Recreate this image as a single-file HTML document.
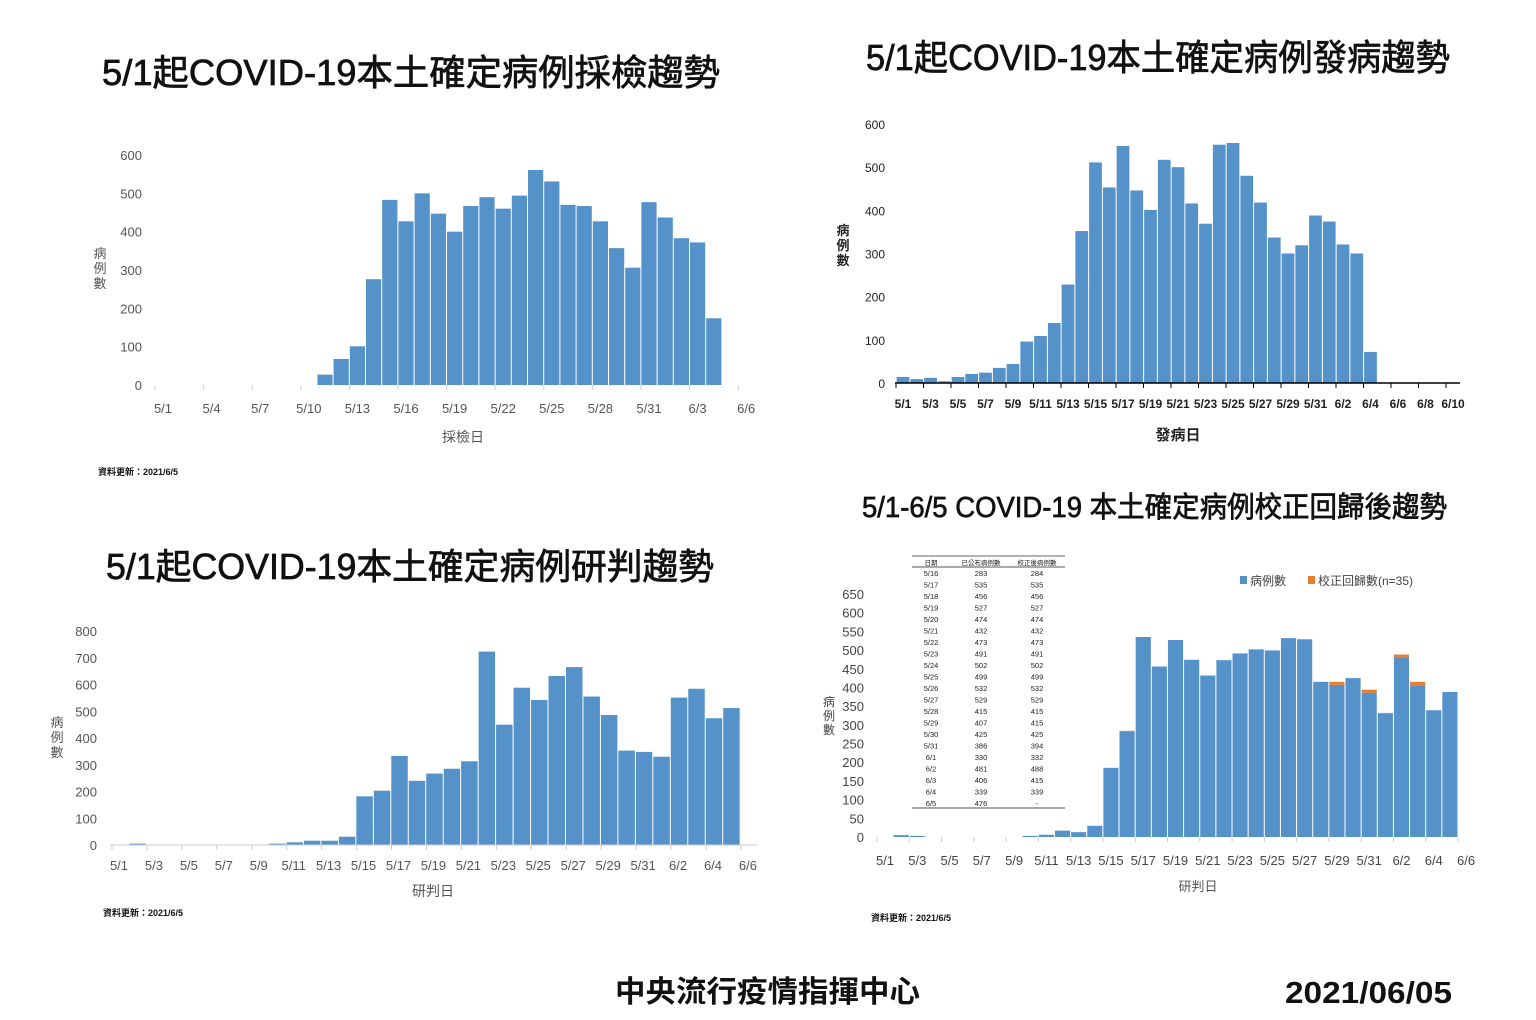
<!DOCTYPE html>
<html><head><meta charset="utf-8"><style>
html,body{margin:0;padding:0;background:#fff;}
svg{display:block;}
text{font-family:"Liberation Sans","Noto Sans CJK TC",sans-serif;}
</style></head><body>
<svg id="s" width="1536" height="1020" xmlns="http://www.w3.org/2000/svg">
<g fill="#111" stroke="#111" stroke-width="0.7">
<text x="102" y="85" font-size="36" textLength="618" lengthAdjust="spacingAndGlyphs">5/1起COVID-19本土確定病例採檢趨勢</text>
<text x="866" y="70" font-size="36" textLength="584" lengthAdjust="spacingAndGlyphs">5/1起COVID-19本土確定病例發病趨勢</text>
<text x="106" y="579" font-size="36" textLength="608" lengthAdjust="spacingAndGlyphs">5/1起COVID-19本土確定病例研判趨勢</text>
<text x="862" y="517" font-size="29" textLength="585" lengthAdjust="spacingAndGlyphs">5/1-6/5 COVID-19 本土確定病例校正回歸後趨勢</text>
</g>
<g font-weight="bold" fill="#111">
<text x="615" y="1002" font-size="30" textLength="305" lengthAdjust="spacingAndGlyphs">中央流行疫情指揮中心</text>
<text x="1285" y="1003" font-size="31" textLength="167" lengthAdjust="spacingAndGlyphs">2021/06/05</text>
<text x="98" y="475" font-size="9">資料更新：2021/6/5</text>
<text x="103" y="916" font-size="9">資料更新：2021/6/5</text>
<text x="871" y="921" font-size="9">資料更新：2021/6/5</text>
</g>
<g id="g"></g>
</svg>
<script>
var NS="http://www.w3.org/2000/svg",G=document.getElementById('g');
function el(t,a,txt){var e=document.createElementNS(NS,t);for(var k in a)e.setAttribute(k,a[k]);if(txt!=null)e.textContent=txt;G.appendChild(e);return e;}
var BLUE="#5592ca";
function lab(d){var m=d<31?5:6,dd=d<31?d+1:d-30;return m+"/"+dd;}
// chart1
(function(){var z=385,s=230/600,x0=163,w=16.2;
for(var v=0;v<=600;v+=100)el('text',{x:142,y:z-v*s+5,'font-size':13,'text-anchor':'end',fill:'#555'},v);
var vals=[27,68,101,276,483,427,500,447,400,467,490,460,494,561,531,470,467,427,357,306,477,437,383,372,174];
vals.forEach(function(v,i){var c=x0+(10+i)*w;el('rect',{x:c-w/2+0.5,y:z-v*s,width:w-1,height:v*s,fill:BLUE});});
for(var d=0;d<=36;d+=3){el('line',{x1:x0+d*w-8,y1:z,x2:x0+d*w-8,y2:z+5,stroke:'#ccc'});el('text',{x:x0+d*w,y:413,'font-size':13,'text-anchor':'middle',fill:'#555'},lab(d));}
el('text',{x:463,y:442,'font-size':14,'text-anchor':'middle',fill:'#555'},'採檢日');
['病','例','數'].forEach(function(c,i){el('text',{x:100,y:258+i*15,'font-size':13,'text-anchor':'middle',fill:'#555'},c);});
})();
// chart2
(function(){var z=383,s=259/600,x0=903,w=13.75;
for(var v=0;v<=600;v+=100)el('text',{x:885,y:z-v*s+5,'font-size':12,'text-anchor':'end',fill:'#222'},v);
var vals=[14,9,12,4,14,21,24,35,44,96,109,139,228,352,511,453,549,446,401,517,500,416,369,552,556,480,418,337,300,319,388,374,321,300,72];
vals.forEach(function(v,i){var c=x0+i*w;el('rect',{x:c-w/2+0.5,y:z-v*s,width:w-1,height:v*s,fill:BLUE});});
el('line',{x1:895,y1:z,x2:1460,y2:z,stroke:'#000','stroke-width':1.5});
for(var d=0;d<=40;d+=2){el('line',{x1:x0+d*w-7,y1:z,x2:x0+d*w-7,y2:z+5,stroke:'#000'});var L=d<31?lab(d):'6/'+(d-30);el('text',{x:x0+d*w,y:408,'font-size':12,'font-weight':'bold','text-anchor':'middle',fill:'#222'},L);}
el('text',{x:1178,y:440,'font-size':15,'font-weight':'bold','text-anchor':'middle',fill:'#222'},'發病日');
['病','例','數'].forEach(function(c,i){el('text',{x:843,y:235+i*15,'font-size':13,'font-weight':'bold','text-anchor':'middle',fill:'#222'},c);});
})();
// chart3
(function(){var z=845,s=214/800,x0=119,w=17.47;
for(var v=0;v<=800;v+=100)el('text',{x:97,y:z-v*s+5,'font-size':13,'text-anchor':'end',fill:'#555'},v);
var vals=[0,5,1,1,1,1,1,1,1,5,10,16,16,31,182,203,333,240,267,285,313,723,450,588,542,632,665,555,486,353,348,330,551,584,474,512];
vals.forEach(function(v,i){if(!v)return;var c=x0+i*w+1;el('rect',{x:c-w/2+0.5,y:z-v*s,width:w-1,height:v*s,fill:BLUE});});
el('line',{x1:110,y1:z,x2:758,y2:z,stroke:'#ccc'});
for(var d=0;d<=36;d+=2){el('line',{x1:x0+d*w-7,y1:z,x2:x0+d*w-7,y2:z+5,stroke:'#ccc'});el('text',{x:x0+d*w,y:870,'font-size':13,'text-anchor':'middle',fill:'#555'},lab(d));}
el('text',{x:433,y:896,'font-size':14,'text-anchor':'middle',fill:'#555'},'研判日');
['病','例','數'].forEach(function(c,i){el('text',{x:57,y:727+i*15,'font-size':13,'text-anchor':'middle',fill:'#555'},c);});
})();
// chart4
(function(){var z=837,s=243/650,x0=885,w=16.14;
for(var v=0;v<=650;v+=50)el('text',{x:864,y:z-v*s+5,'font-size':13,'text-anchor':'end',fill:'#444'},v);
var vals=[0,5,3,0,0,0,0,0,0,3,6,17,13,30,185,283,535,456,527,474,432,473,491,502,499,532,529,415,407,425,386,330,481,406,339,388];
var corr={15:1,28:8,30:8,31:2,32:7,33:9};
vals.forEach(function(v,i){if(!v)return;var c=x0+i*w;el('rect',{x:c-w/2+0.5,y:z-v*s,width:w-1,height:v*s,fill:BLUE});if(corr[i]){el('rect',{x:c-w/2+0.5,y:z-(v+corr[i])*s,width:w-1,height:corr[i]*s,fill:'#e87d2e'});}});
for(var d=0;d<=36;d+=2){el('line',{x1:x0+d*w-8,y1:z,x2:x0+d*w-8,y2:z+5,stroke:'#ccc'});el('text',{x:x0+d*w,y:865,'font-size':13,'text-anchor':'middle',fill:'#444'},lab(d));}
el('text',{x:1198,y:891,'font-size':13,'text-anchor':'middle',fill:'#555'},'研判日');
['病','例','數'].forEach(function(c,i){el('text',{x:829,y:706+i*14,'font-size':12,'text-anchor':'middle',fill:'#444'},c);});
el('rect',{x:1240,y:576,width:7,height:8,fill:BLUE});
el('text',{x:1250,y:585,'font-size':12,fill:'#444'},'病例數');
el('rect',{x:1308,y:576,width:7,height:8,fill:'#e87d2e'});
el('text',{x:1318,y:585,'font-size':12,fill:'#444'},'校正回歸數(n=35)');
el('rect',{x:912,y:555,width:153,height:253,fill:'#fff'});
el('line',{x1:912,y1:556,x2:1065,y2:556,stroke:'#999','stroke-width':1.5});
el('line',{x1:912,y1:567,x2:1065,y2:567,stroke:'#555'});
el('line',{x1:912,y1:808,x2:1065,y2:808,stroke:'#888','stroke-width':1.5});
[['日期',931],['已公布病例數',981],['校正後病例數',1037]].forEach(function(h){el('text',{x:h[1],y:565,'font-size':6.5,'text-anchor':'middle',fill:'#222'},h[0]);});
var rows=[['5/16',283,284],['5/17',535,535],['5/18',456,456],['5/19',527,527],['5/20',474,474],['5/21',432,432],['5/22',473,473],['5/23',491,491],['5/24',502,502],['5/25',499,499],['5/26',532,532],['5/27',529,529],['5/28',415,415],['5/29',407,415],['5/30',425,425],['5/31',386,394],['6/1',330,332],['6/2',481,488],['6/3',406,415],['6/4',339,339],['6/5',476,'-']];
rows.forEach(function(r,i){var y=576+i*11.5;el('text',{x:931,y:y,'font-size':7.5,'text-anchor':'middle',fill:'#222'},r[0]);el('text',{x:981,y:y,'font-size':7.5,'text-anchor':'middle',fill:'#222'},r[1]);el('text',{x:1037,y:y,'font-size':7.5,'text-anchor':'middle',fill:'#222'},r[2]);});
})();
</script>
</body></html>
